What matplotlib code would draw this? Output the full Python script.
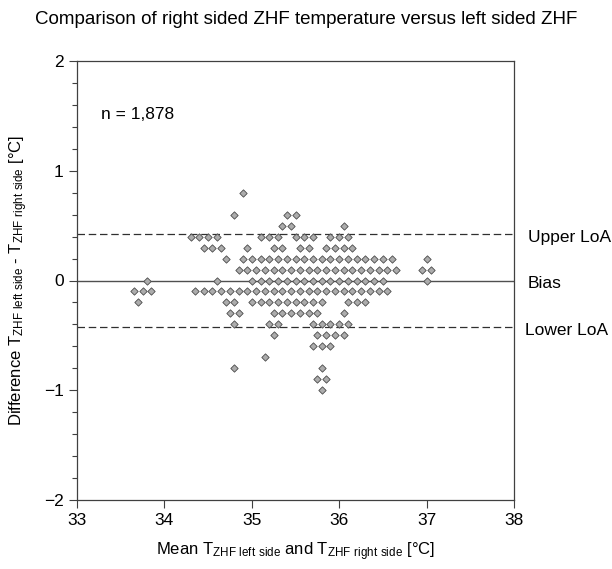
import matplotlib
matplotlib.use("Agg")
import matplotlib.pyplot as plt
import matplotlib.transforms as mtransforms

plt.rcParams['font.family'] = ['Liberation Sans', 'DejaVu Sans']
plt.rcParams['mathtext.fontset'] = 'custom'
plt.rcParams['mathtext.rm'] = 'Liberation Sans'
plt.rcParams['mathtext.default'] = 'regular'

# Mean values (x) for each difference level (y)
diff_p08 = [34.9]
diff_p06 = [34.8, 35.4, 35.5]
diff_p05 = [35.35, 35.45, 36.05]
diff_p04 = [34.3, 34.4, 34.5, 34.6, 35.1, 35.2, 35.3, 35.5, 35.6, 35.7, 35.9, 36.0, 36.1]
diff_p03 = [34.45, 34.55, 34.65, 34.95, 35.25, 35.35, 35.55, 35.65, 35.85, 35.95, 36.05, 36.15]
diff_p02 = [34.7, 34.9, 35.0, 35.1, 35.2, 35.3, 35.4, 35.5, 35.6, 35.7, 35.8, 35.9, 36.0,
            36.1, 36.2, 36.3, 36.4, 36.5, 36.6, 37.0]
diff_p01 = [34.85, 34.95, 35.05, 35.15, 35.25, 35.35, 35.45, 35.55, 35.65, 35.75, 35.85,
            35.95, 36.05, 36.15, 36.25, 36.35, 36.45, 36.55, 36.65, 36.95, 37.05]
diff_000 = [33.8, 34.6, 35.0, 35.1, 35.2, 35.3, 35.4, 35.5, 35.6, 35.7, 35.8, 35.9, 36.0,
            36.1, 36.2, 36.3, 36.4, 36.5, 37.0]
diff_m01 = [33.65, 33.75, 33.85, 34.35, 34.45, 34.55, 34.65, 34.75, 34.85, 34.95, 35.05,
            35.15, 35.25, 35.35, 35.45, 35.55, 35.65, 35.75, 35.85, 35.95, 36.05, 36.15,
            36.25, 36.35, 36.45, 36.55]
diff_m02 = [33.7, 34.7, 34.8, 35.0, 35.1, 35.2, 35.3, 35.4, 35.5, 35.6, 35.7, 35.8,
            36.1, 36.2, 36.3]
diff_m03 = [34.75, 34.85, 35.25, 35.35, 35.45, 35.55, 35.65, 35.75, 36.05]
diff_m04 = [34.8, 35.2, 35.3, 35.7, 35.8, 35.9, 36.0, 36.1]
diff_m05 = [35.25, 35.75, 35.85, 35.95, 36.05]
diff_m06 = [35.7, 35.8, 35.9]
diff_m07 = [35.15]
diff_m08 = [34.8, 35.8]
diff_m09 = [35.75, 35.85]
diff_m10 = [35.8]

rows = [(0.8, diff_p08), (0.6, diff_p06), (0.5, diff_p05), (0.4, diff_p04),
        (0.3, diff_p03), (0.2, diff_p02), (0.1, diff_p01), (0.0, diff_000),
        (-0.1, diff_m01), (-0.2, diff_m02), (-0.3, diff_m03), (-0.4, diff_m04),
        (-0.5, diff_m05), (-0.6, diff_m06), (-0.7, diff_m07), (-0.8, diff_m08),
        (-0.9, diff_m09), (-1.0, diff_m10)]

bias = 0.0
upper_loa = 0.425
lower_loa = -0.425
line_labels = ['Upper LoA', 'Bias', 'Lower LoA']
n_text = 'n = 1,878'

fig = plt.figure(figsize=(6.12, 5.69), dpi=100)
ax = fig.add_axes([77/612, 1-500/569, 437/612, 439/569])

xs, ys = [], []
for d, means in rows:
    xs.extend(means)
    ys.extend([d] * len(means))

ax.axhline(bias, color='#505050', lw=1.0, zorder=1)
ax.axhline(upper_loa, color='#303030', lw=0.9, ls=(0, (6, 3)), zorder=1)
ax.axhline(lower_loa, color='#303030', lw=0.9, ls=(0, (6, 3)), zorder=1)

ax.scatter(xs, ys, marker='D', s=14, facecolor='#acacac', edgecolor='#4a4a4a',
           linewidths=0.6, zorder=3)

ax.set_xlim(33, 38)
ax.set_ylim(-2, 2)
ax.set_xticks([33, 34, 35, 36, 37, 38])
ax.set_yticks([-2, -1, 0, 1, 2])
ax.set_yticks([-1.8, -1.6, -1.4, -1.2, -0.8, -0.6, -0.4, -0.2,
               0.2, 0.4, 0.6, 0.8, 1.2, 1.4, 1.6, 1.8], minor=True)
ax.tick_params(axis='both', which='major', direction='out', length=6, width=0.8,
               color='#404040', labelsize=12.5, pad=3.5)
ax.tick_params(axis='y', which='minor', direction='out', length=3.5, width=0.8,
               color='#404040')
for sp in ax.spines.values():
    sp.set_color('#404040')
    sp.set_linewidth(0.9)

trans = mtransforms.blended_transform_factory(ax.transAxes, ax.transData)
for lab, yv in zip(line_labels, [upper_loa, bias, lower_loa]):
    xoff = 1.032 if lab != 'Lower LoA' else 1.025
    ax.text(xoff, yv - 0.03, lab, transform=trans, ha='left', va='center',
            fontsize=12.5, clip_on=False)

ax.text(33.27, 1.51, n_text, ha='left', va='center', fontsize=12.5)

ax.set_xlabel(r'Mean T$_{\mathregular{ZHF\ left\ side}}$ and T$_{\mathregular{ZHF\ right\ side}}$ [°C]',
              fontsize=12, labelpad=9)
ax.set_ylabel(r'Difference T$_{\mathregular{ZHF\ left\ side}}$ - T$_{\mathregular{ZHF\ right\ side}}$ [°C]',
              fontsize=12, labelpad=10)

fig.text(0.5, 1-20/569, 'Comparison of right sided ZHF temperature versus left sided ZHF',
         ha='center', va='center', fontsize=13.5)

fig.savefig('out.png', dpi=100)
